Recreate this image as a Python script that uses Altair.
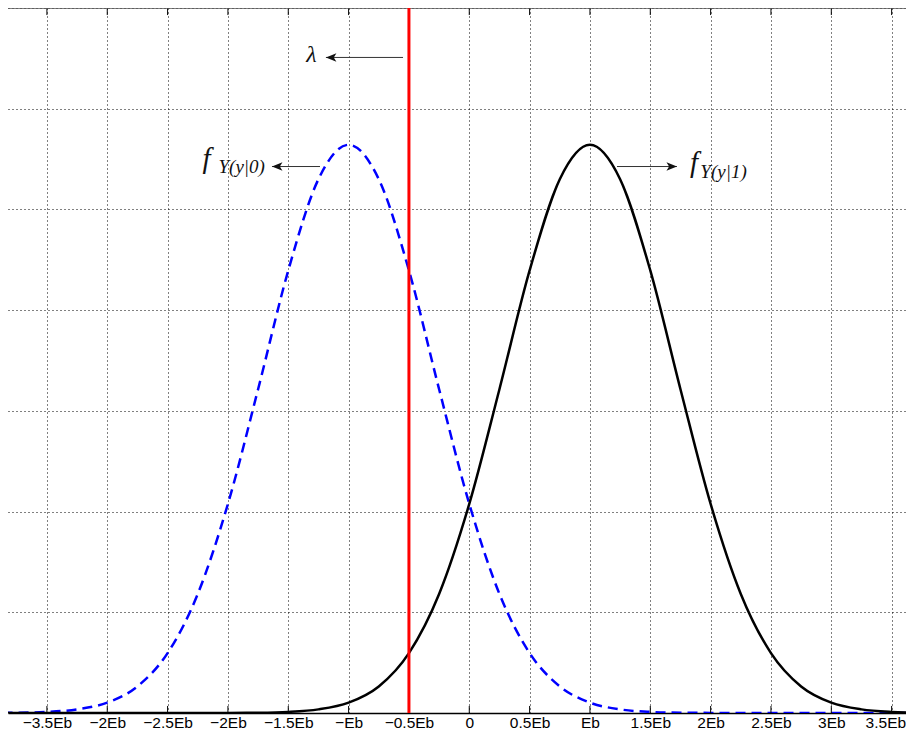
import altair as alt
import pandas as pd

# ---- data ----
x_vals = [-4.0, -3.75, -3.5, -3.25, -3.0, -2.75, -2.5, -2.25, -2.0, -1.75, -1.5, -1.25,
          -1.0, -0.75, -0.5, -0.25, 0.0, 0.25, 0.5, 0.75, 1.0, 1.25, 1.5, 1.75,
          2.0, 2.25, 2.5, 2.75, 3.0, 3.25, 3.5, 3.75, 4.0]
pdf_bit0 = [0.0001, 0.0003, 0.0011, 0.0036, 0.0103, 0.0264, 0.0595, 0.1182, 0.2076, 0.3215, 0.4394, 0.5300,
            0.5642, 0.5300, 0.4394, 0.3215, 0.2076, 0.1182, 0.0595, 0.0264, 0.0103, 0.0036, 0.0011, 0.0003,
            0.0001, 0.0, 0.0, 0.0, 0.0, 0.0, 0.0, 0.0, 0.0]
pdf_bit1 = [0.0, 0.0, 0.0, 0.0, 0.0, 0.0, 0.0, 0.0, 0.0001, 0.0003, 0.0011, 0.0036,
            0.0103, 0.0264, 0.0595, 0.1182, 0.2076, 0.3215, 0.4394, 0.5300, 0.5642, 0.5300, 0.4394, 0.3215,
            0.2076, 0.1182, 0.0595, 0.0264, 0.0103, 0.0036, 0.0011, 0.0003, 0.0001]
tick_vals = [-3.5, -3.0, -2.5, -2.0, -1.5, -1.0, -0.5, 0.0, 0.5, 1.0, 1.5, 2.0, 2.5, 3.0, 3.5]
tick_labels = ["\u22123.5Eb", "\u22122Eb", "\u22122.5Eb", "\u22122Eb", "\u22121.5Eb", "\u2212Eb", "\u22120.5Eb",
               "0", "0.5Eb", "Eb", "1.5Eb", "2Eb", "2.5Eb", "3Eb", "3.5Eb"]
y_grid = [0.0, 0.1, 0.2, 0.3, 0.4, 0.5, 0.6, 0.7]
threshold = -0.5

# annotations
arrow_tail_x = [-0.549, -1.237, 1.224]
arrow_tip_x = [-1.188, -1.635, 1.721]
arrow_y = [0.6509, 0.5426, 0.5426]
arrow_dir = ["left", "left", "right"]

text_labels = ["\u03bb", "f", "Y(y|0)", "f", "Y(y|1)"]
text_x = [-1.35, -2.21, -2.078, 1.83, 1.915]
text_y = [0.6465, 0.5414, 0.5364, 0.5374, 0.5314]
text_size = [24, 29, 19, 29, 19]

X_DOMAIN = [-3.8225, 3.619]
Y_DOMAIN = [0.0, 0.7]

curves = pd.DataFrame({"x": x_vals, "b0": pdf_bit0, "b1": pdf_bit1})
arrows = pd.DataFrame({"x": arrow_tail_x, "x2": arrow_tip_x, "y": arrow_y, "dir": arrow_dir})
texts = pd.DataFrame({"x": text_x, "y": text_y, "label": text_labels, "fs": text_size})
ticks_df = pd.DataFrame(
    [{"x": t, "y0": 0.0, "y1": 0.007} for t in tick_vals]
    + [{"x": t, "y0": 0.693, "y1": 0.7} for t in tick_vals]
)

label_expr = "[" + ",".join("'" + s + "'" for s in tick_labels) + "][round((datum.value + 3.5) * 2)]"

xscale = alt.Scale(domain=X_DOMAIN, nice=False, zero=False)
yscale = alt.Scale(domain=Y_DOMAIN, nice=False, zero=False)

x_axis = alt.Axis(values=tick_vals, labelExpr=label_expr, grid=True, gridDash=[1, 3],
                  gridColor="#000000", gridWidth=1, ticks=False, domain=True,
                  domainColor="#000000", domainWidth=1.5, labelFont="Liberation Sans",
                  labelFontSize=15.5, labelColor="#000000", labelPadding=17,
                  labelBaseline="bottom", title=None, labelFlush=False,
                  labelAlign={"condition": {"test": "datum.value >= 3.4", "value": "right"},
                              "value": "center"},
                  labelOffset={"condition": {"test": "datum.value >= 3.4", "value": 14},
                               "value": 0},
                  labelOverlap=False)
y_axis = alt.Axis(values=y_grid, grid=True, gridDash=[1, 3], gridColor="#000000", gridWidth=1,
                  labels=False, ticks=False, domain=False, title=None)

base = alt.Chart(curves)

blue = base.mark_line(color="#0000FF", strokeWidth=2.5, strokeDash=[10, 6],
                      interpolate="monotone", clip=True).encode(
    x=alt.X("x:Q", scale=xscale, axis=x_axis),
    y=alt.Y("b0:Q", scale=yscale, axis=y_axis),
)
black = base.mark_line(color="#000000", strokeWidth=2.5, interpolate="monotone", clip=True).encode(
    x=alt.X("x:Q", title=None),
    y=alt.Y("b1:Q", title=None),
)

inticks = alt.Chart(ticks_df).mark_rule(color="#000000", strokeWidth=1).encode(
    x=alt.X("x:Q", title=None), y=alt.Y("y0:Q", title=None), y2="y1:Q"
)

top_border = alt.Chart(pd.DataFrame({"y": [Y_DOMAIN[1]]})).mark_rule(
    color="#555555", strokeWidth=1.5).encode(y=alt.Y("y:Q", title=None))

red = alt.Chart(pd.DataFrame({"x": [threshold]})).mark_rule(
    color="#FF0000", strokeWidth=3).encode(x=alt.X("x:Q", title=None))

arrow_lines = alt.Chart(arrows).mark_rule(color="#333333", strokeWidth=1).encode(
    x=alt.X("x:Q", title=None), x2="x2:Q", y=alt.Y("y:Q", title=None)
)
left_head = alt.Chart(arrows).transform_filter(alt.datum.dir == "left").mark_point(
    shape="M0,0 L2,-0.8 L1.5,0 L2,0.8 Z", filled=True, color="#111111", size=110, opacity=1
).encode(x=alt.X("x2:Q", title=None), y=alt.Y("y:Q", title=None))
right_head = alt.Chart(arrows).transform_filter(alt.datum.dir == "right").mark_point(
    shape="M0,0 L-2,-0.8 L-1.5,0 L-2,0.8 Z", filled=True, color="#111111", size=110, opacity=1
).encode(x=alt.X("x2:Q", title=None), y=alt.Y("y:Q", title=None))

labels = alt.Chart(texts).mark_text(font="Liberation Serif", fontStyle="italic", align="left",
                                    baseline="alphabetic", color="#111111").encode(
    x=alt.X("x:Q", title=None), y=alt.Y("y:Q", title=None), text="label:N",
    size=alt.Size("fs:Q", scale=None, legend=None)
)

chart = alt.layer(
    blue, black, inticks, top_border, red, arrow_lines, left_head, right_head, labels
).properties(
    width=898, height=705,
    autosize=alt.AutoSizeParams(type="none"),
    padding={"left": 0, "top": 0, "right": 0, "bottom": 17},
    background="#FFFFFF",
).configure_view(stroke=None)

chart.save("out.html", embed_options={"renderer": "svg", "actions": False})
